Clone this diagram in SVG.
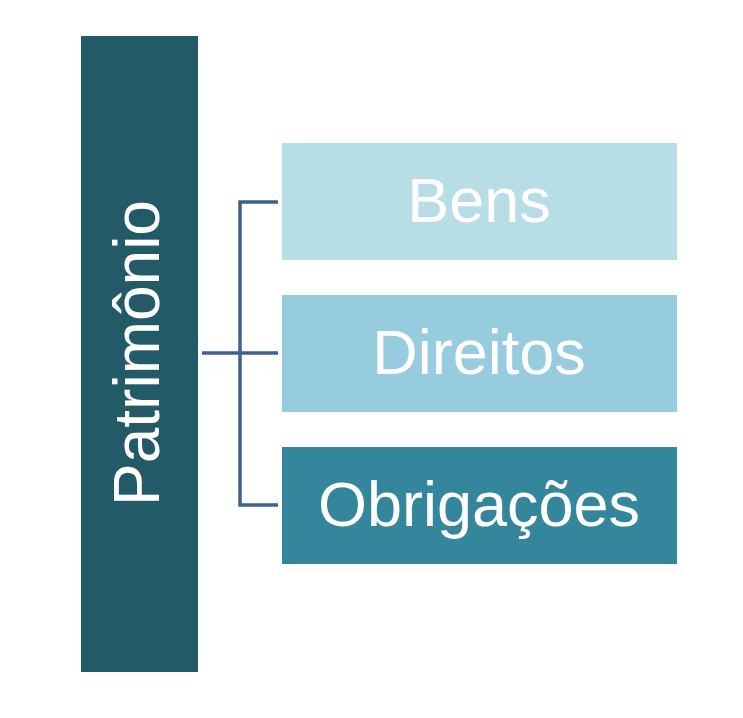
<svg xmlns="http://www.w3.org/2000/svg" width="743" height="718" viewBox="0 0 743 718">
<style>
.t{font-family:"Liberation Sans",Arial,sans-serif;fill:#fff;font-size:63px;text-anchor:middle}
.c{fill:none;stroke:#3D6290;stroke-width:3.5}
</style>
<rect width="743" height="718" fill="#fff"/>
<g id="patrimonio">
<rect x="81" y="36" width="117" height="636" fill="#225A67"/>
<text class="t" style="font-size:64px" transform="translate(159,353) rotate(-90)">Patrimônio</text>
</g>
<g id="connectors">
<path class="c" d="M278,202 H240 V505 H278"/>
<path class="c" d="M202,353 H278"/>
</g>
<g id="bens">
<rect x="282" y="143" width="395" height="117" fill="#B7DDE6"/>
<text class="t" x="479" y="222">Bens</text>
</g>
<g id="direitos">
<rect x="282" y="295" width="395" height="117" fill="#96CCDD"/>
<text class="t" x="479" y="374">Direitos</text>
</g>
<g id="obrigacoes">
<rect x="282" y="447" width="395" height="117" fill="#33869B"/>
<text class="t" x="479" y="526">Obrigações</text>
</g>
</svg>
